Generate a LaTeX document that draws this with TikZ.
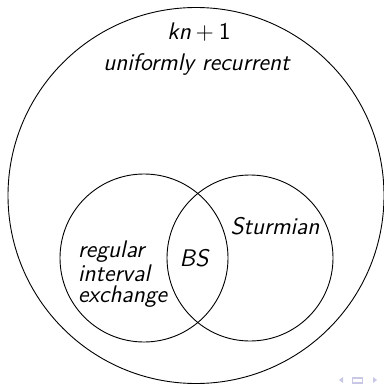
\documentclass[tikz,border=0pt]{standalone}
\definecolor{navcol}{RGB}{200,200,230}
\tikzset{
  setc/.style={circle, draw, line width=0.45pt, inner sep=0pt, outer sep=0pt},
  lbl/.style={inner sep=0pt, outer sep=0pt, font=\fontsize{12}{10.5}\selectfont\sffamily\itshape},
}
\begin{document}
\begin{tikzpicture}[x=0.5pt, y=-0.5pt]
\useasboundingbox (0,0) rectangle (384,385);
\node[setc, minimum size=188pt] (ur) at (196,195.5) {};
\node[setc, minimum size=84pt] (rie) at (144,258) {};
\node[setc, minimum size=83pt] (st) at (250,258) {};
\node[lbl, anchor=base] (kn) at (199,40) {kn\hspace{0.2em}\upshape+\hspace{0.2em}1};
\node[lbl, anchor=base] (urt) at (196.5,70.5) {uniformly recurrent};
\node[lbl, anchor=base] (stt) at (275,234) {Sturmian};
\node[lbl, anchor=base] (bs) at (194,266) {BS};
\node[lbl, anchor=north west, align=left] (riet) at (78,241) {regular\\interval\\exchange};
% navigation symbols
\fill[navcol] (339,380) -- (343,377) -- (343,383) -- cycle;
\draw[navcol, line width=0.9pt] (352.5,378) rectangle (362.5,383);
\fill[navcol] (377,380) -- (373,377) -- (373,383) -- cycle;
\end{tikzpicture}
\end{document}
